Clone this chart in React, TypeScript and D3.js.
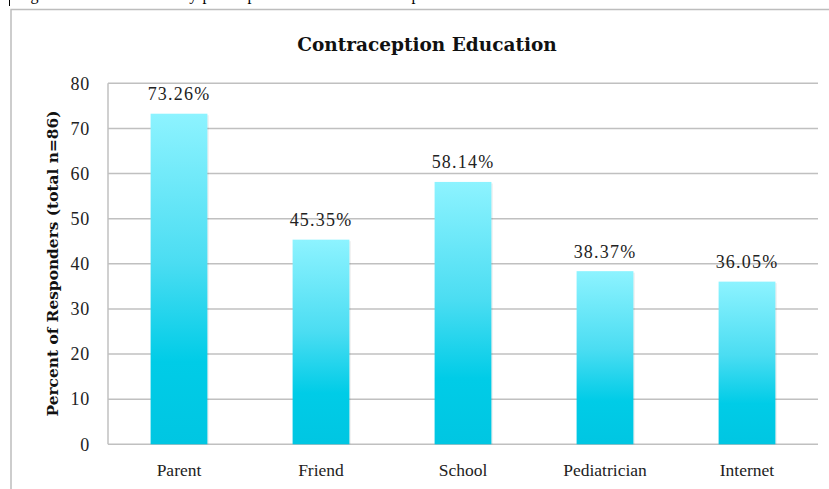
import React from "react";
import * as d3 from "d3";

const categories = ["Parent", "Friend", "School", "Pediatrician", "Internet"];
const values = [73.26, 45.35, 58.14, 38.37, 36.05];
const valueLabels = ["73.26%", "45.35%", "58.14%", "38.37%", "36.05%"];
const yTicks = [0, 10, 20, 30, 40, 50, 60, 70, 80];
const title = "Contraception Education";
const yTitle = "Percent of Responders (total n=86)";
const caption = "Figure 1: Where the study participants received contraception education";

const W = 829;
const H = 489;
const serif = "'Liberation Serif', serif";
const wideSerif = "'DejaVu Serif', serif";

export default function App() {
  const x = d3.scaleBand<string>().domain(categories).range([108, 818]).paddingInner(0.6).paddingOuter(0.3);
  const y = d3.scaleLinear().domain([0, 80]).range([444.3, 83.3]);
  const grid = "#C0C0C0";
  return (
    <svg width={W} height={H} style={{ position: "absolute", left: 0, top: 0, background: "#fff" }}>
      <defs>
        <linearGradient id="barGrad" x1="0" y1="0" x2="0" y2="1">
          <stop offset="0%" stopColor="#8DF3FF" />
          <stop offset="45%" stopColor="#4BDDF2" />
          <stop offset="75%" stopColor="#00CCE7" />
          <stop offset="100%" stopColor="#00C6E2" />
        </linearGradient>
      </defs>
      <text x={16} y={-0.5} fontFamily={serif} fontSize={16} fill="#000" letterSpacing={0.6}>
        {caption}
      </text>
      <line x1={9.5} x2={9.5} y1={0} y2={6} stroke="#000" strokeWidth={1} />
      <rect x={11} y={9.5} width={W + 10} height={H + 10} fill="none" stroke="#BDBDBD" strokeWidth={1.5} />
      <text x={427} y={51} textAnchor="middle" fontFamily={wideSerif} fontWeight="bold" fontSize={18.5} fill="#111">
        {title}
      </text>
      {yTicks.map((t) => (
        <g key={t}>
          <line x1={108} x2={818} y1={y(t)} y2={y(t)} stroke={grid} strokeWidth={1.5} />
          <text x={90} y={y(t)} dy="0.35em" textAnchor="end" fontFamily={serif} fontSize={18} letterSpacing={0.8} fill="#222">
            {t}
          </text>
        </g>
      ))}
      <line x1={108} x2={108} y1={y(80)} y2={y(0)} stroke={grid} strokeWidth={1.5} />
      {categories.map((c, i) => {
        const bx = x(c)!;
        const bw = x.bandwidth();
        const top = y(values[i]);
        return (
          <g key={c}>
            <rect x={bx + 1.5} y={top + 1.5} width={bw} height={y(0) - top - 1.5} fill="#000" opacity={0.06} />
            <rect x={bx} y={top} width={bw} height={y(0) - top} fill="url(#barGrad)" />
            <text x={bx + bw / 2} y={top - 13.5} textAnchor="middle" fontFamily={serif} fontSize={18} letterSpacing={1.2} fill="#222">
              {valueLabels[i]}
            </text>
            <text x={bx + bw / 2} y={476} textAnchor="middle" fontFamily={serif} fontSize={17.5} fill="#222">
              {c}
            </text>
          </g>
        );
      })}
      <text
        transform={`translate(58, 263.5) rotate(-90)`}
        textAnchor="middle"
        fontFamily={wideSerif}
        fontWeight="bold"
        fontSize={15.4}
        fill="#111"
      >
        {yTitle}
      </text>
    </svg>
  );
}
